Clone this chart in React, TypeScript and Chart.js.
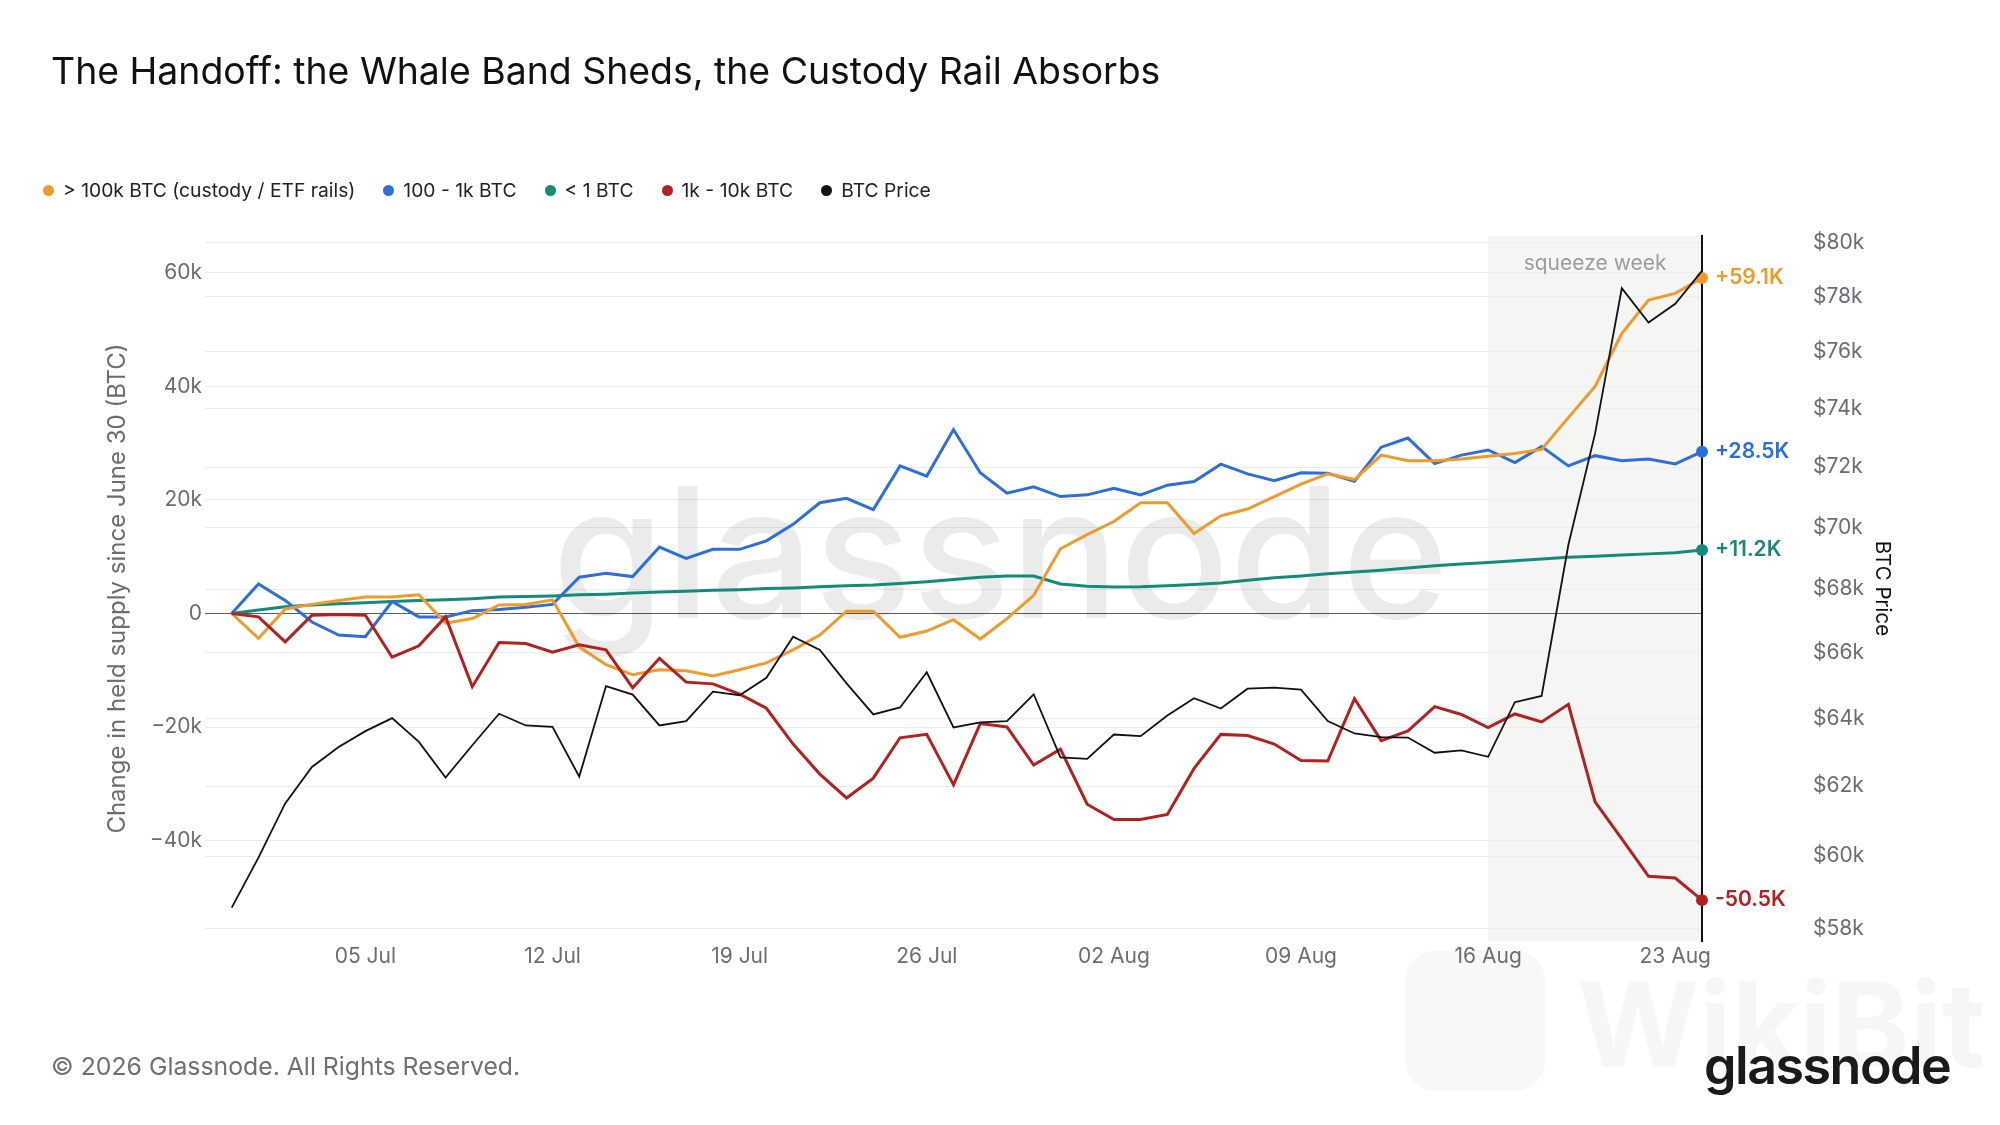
import React, { useEffect, useRef } from "react";
import { Chart, registerables } from "chart.js";

Chart.register(...registerables);

// ---------- data (values in thousands of BTC / thousands of USD) ----------
// daily points from 30 Jun (index 0) to 24 Aug (index 55)
const dayIndex: number[] = Array.from({ length: 56 }, (_, i) => i);
const xTickDays = [5, 12, 19, 26, 33, 40, 47, 54];
const xTickLabels = ["05 Jul", "12 Jul", "19 Jul", "26 Jul", "02 Aug", "09 Aug", "16 Aug", "23 Aug"];

const whale100k = [
  0, -4.4, 0.8, 1.6, 2.3, 2.9, 2.9, 3.3, -1.7, -0.9,
  1.5, 1.6, 2.4, -5.9, -9.0, -10.8, -9.9, -10.1, -11.0, -9.9,
  -8.7, -6.4, -3.8, 0.4, 0.4, -4.2, -3.1, -1.1, -4.5, -0.9,
  3.2, 11.4, 13.9, 16.2, 19.5, 19.5, 14.1, 17.2, 18.4, 20.6,
  22.8, 24.6, 23.6, 27.9, 26.9, 26.9, 27.2, 27.7, 28.2, 28.9,
  34.5, 40.0, 49.3, 55.2, 56.4, 59.1,
];
const band100to1k = [
  0, 5.2, 2.3, -1.5, -3.8, -4.1, 2.1, -0.6, -0.6, 0.5,
  0.7, 1.1, 1.6, 6.4, 7.1, 6.5, 11.7, 9.7, 11.3, 11.3,
  12.8, 15.7, 19.5, 20.3, 18.3, 26.0, 24.2, 32.4, 24.8, 21.2,
  22.3, 20.6, 20.9, 22.05, 20.9, 22.6, 23.25, 26.3, 24.6, 23.4,
  24.8, 24.7, 23.3, 29.3, 30.9, 26.4, 27.9, 28.8, 26.6, 29.4,
  26.0, 27.8, 26.9, 27.2, 26.35, 28.5,
];
const under1 = [
  0, 0.6, 1.2, 1.5, 1.7, 1.9, 2.1, 2.3, 2.4, 2.6,
  2.9, 3.0, 3.1, 3.3, 3.4, 3.6, 3.8, 3.9, 4.1, 4.2,
  4.4, 4.5, 4.7, 4.9, 5.0, 5.3, 5.6, 6.0, 6.4, 6.6,
  6.6, 5.2, 4.8, 4.65, 4.7, 4.9, 5.1, 5.35, 5.85, 6.3,
  6.6, 7.0, 7.3, 7.6, 8.0, 8.4, 8.7, 9.0, 9.3, 9.6,
  9.9, 10.1, 10.3, 10.5, 10.7, 11.2,
];
const band1kto10k = [
  0, -0.6, -5.0, -0.3, -0.2, -0.3, -7.7, -5.7, -0.6, -12.9,
  -5.1, -5.3, -6.8, -5.5, -6.4, -13.1, -7.9, -12.1, -12.4, -14.2,
  -16.7, -23.0, -28.3, -32.5, -29.0, -21.9, -21.3, -30.2, -19.4, -20.0,
  -26.7, -23.9, -33.6, -36.3, -36.3, -35.4, -27.3, -21.3, -21.5, -23.0,
  -25.9, -26.0, -15.0, -22.4, -20.7, -16.4, -17.8, -20.1, -17.7, -19.1,
  -16.0, -33.2, -39.7, -46.3, -46.6, -50.5,
];
const btcPrice = [
  58.57, 59.96, 61.5, 62.56, 63.15, 63.62, 64.01, 63.3, 62.25, 63.2,
  64.14, 63.79, 63.75, 62.28, 64.98, 64.72, 63.79, 63.92, 64.81, 64.7,
  65.23, 66.5, 66.09, 65.06, 64.12, 64.33, 65.4, 63.73, 63.88, 63.92,
  64.73, 62.84, 62.8, 63.52, 63.47, 64.09, 64.61, 64.3, 64.9, 64.93,
  64.87, 63.92, 63.55, 63.44, 63.43, 62.98, 63.05, 62.86, 64.49, 64.68,
  69.42, 73.14, 78.3, 77.05, 77.73, 78.94,
];
const supplyTicks = [-40, -20, 0, 20, 40, 60];
const priceTicks = [58, 60, 62, 64, 66, 68, 70, 72, 74, 76, 78, 80];
const squeezeStartDay = 47;
const squeezeEndDay = 55;

const seriesNames = ["> 100k BTC (custody / ETF rails)", "100 - 1k BTC", "< 1 BTC", "1k - 10k BTC", "BTC Price"];
const seriesColors = ["#f09a2a", "#2c6fdc", "#138a7b", "#b3211f", "#111111"];
const endLabels = ["+59.1K", "+28.5K", "+11.2K", "-50.5K"];

const FONT = "Inter, 'Noto Sans', sans-serif";
const TICK_COLOR = "#6c6c72";
const GRID = "#ececec";

const toPts = (arr: number[]) => arr.map((v, i) => ({ x: dayIndex[i], y: v }));

const decorPlugin = {
  id: "decor",
  beforeDraw(chart: any) {
    const { ctx, chartArea, scales } = chart;
    const x0 = scales.x.getPixelForValue(squeezeStartDay);
    const x1 = scales.x.getPixelForValue(squeezeEndDay);
    ctx.save();
    ctx.fillStyle = "#f5f5f3";
    ctx.fillRect(x0, chartArea.top, x1 - x0, chartArea.bottom - chartArea.top);
    ctx.restore();
  },
  beforeDatasetsDraw(chart: any) {
    const { ctx, chartArea } = chart;
    ctx.save();
    ctx.font = `500 182px ${FONT}`;
    ctx.fillStyle = "rgba(0,0,0,0.08)";
    ctx.textAlign = "center";
    ctx.textBaseline = "alphabetic";
    ctx.fillText("glassnode", (chartArea.left + chartArea.right) / 2 + 47, 618);
    ctx.restore();
  },
  afterDatasetsDraw(chart: any) {
    const { ctx, chartArea, scales } = chart;
    const x0 = scales.x.getPixelForValue(squeezeStartDay);
    const x1 = scales.x.getPixelForValue(squeezeEndDay);
    ctx.save();
    ctx.font = `400 21px ${FONT}`;
    ctx.fillStyle = "#9b9ca1";
    ctx.textAlign = "center";
    ctx.textBaseline = "middle";
    ctx.fillText("squeeze week", (x0 + x1) / 2, chartArea.top + 28);
    const series = [whale100k, band100to1k, under1, band1kto10k];
    ctx.font = `600 21px ${FONT}`;
    ctx.textAlign = "left";
    series.forEach((s, i) => {
      const last = s.length - 1;
      const py = scales.y.getPixelForValue(s[last]);
      const px = scales.x.getPixelForValue(dayIndex[last]);
      ctx.fillStyle = seriesColors[i];
      ctx.fillText(endLabels[i], px + 13, py);
    });
    ctx.restore();
  },
};

export default function App() {
  const ref = useRef<HTMLCanvasElement>(null);

  useEffect(() => {
    const last = dayIndex.length - 1;
    const endDot = (c: any) => (c.dataIndex === last ? 6 : 0);
    const mk = (data: number[], i: number, width: number, order: number, axis: string, dot: boolean) => ({
      label: seriesNames[i],
      data: toPts(data),
      borderColor: seriesColors[i],
      backgroundColor: seriesColors[i],
      pointBackgroundColor: seriesColors[i],
      borderWidth: width,
      pointRadius: dot ? endDot : 0,
      pointBorderWidth: 0,
      pointHoverRadius: 0,
      tension: 0,
      order,
      yAxisID: axis,
      clip: false as any,
    });
    const chart = new Chart(ref.current!, {
      type: "line",
      data: {
        datasets: [
          mk(btcPrice, 4, 1.8, 0, "y1", false),
          mk(band1kto10k, 3, 3, 1, "y", true),
          mk(whale100k, 0, 3, 2, "y", true),
          mk(band100to1k, 1, 3, 3, "y", true),
          mk(under1, 2, 3, 4, "y", true),
        ] as any,
      },
      options: {
        animation: false,
        responsive: false,
        devicePixelRatio: 1,
        layout: { padding: { top: 236, bottom: 124, left: 0, right: 0 } },
        plugins: { legend: { display: false }, tooltip: { enabled: false }, title: { display: false } },
        events: [],
        scales: {
          x: {
            type: "linear",
            min: -1,
            max: 55,
            grid: { display: false },
            border: { display: false },
            afterBuildTicks: (s: any) => {
              s.ticks = xTickDays.map((v) => ({ value: v }));
            },
            afterFit: (s: any) => {
              s.height = 60;
            },
            ticks: {
              autoSkip: false,
              maxRotation: 0,
              padding: -5,
              color: TICK_COLOR,
              font: { family: FONT, size: 21 },
              callback: (v: any) => {
                const k = xTickDays.indexOf(Number(v));
                return k >= 0 ? xTickLabels[k] : "";
              },
            },
          },
          y: {
            type: "linear",
            position: "left",
            min: -57.7,
            max: 66.5,
            afterBuildTicks: (s: any) => {
              s.ticks = supplyTicks.map((v) => ({ value: v }));
            },
            afterFit: (s: any) => {
              s.width = 205;
            },
            grid: {
              drawTicks: false,
              lineWidth: 1,
              color: (c: any) => (c.tick && c.tick.value === 0 ? "#5a5a5a" : GRID),
            },
            border: { display: false },
            ticks: {
              autoSkip: false,
              padding: 3,
              color: TICK_COLOR,
              font: { family: FONT, size: 21 },
              callback: (v: any) => (Number(v) === 0 ? "0" : (Number(v) < 0 ? "\u2212" : "") + Math.abs(Number(v)) + "k"),
            },
            title: {
              display: true,
              text: "Change in held supply since June 30 (BTC)",
              color: TICK_COLOR,
              font: { family: FONT, size: 24 },
              padding: { top: 103, bottom: 0 },
            },
          },
          y1: {
            type: "logarithmic",
            position: "right",
            min: 57.66,
            max: 80.24,
            afterBuildTicks: (s: any) => {
              s.ticks = priceTicks.map((v) => ({ value: v }));
            },
            afterFit: (s: any) => {
              s.width = 298;
            },
            grid: { drawTicks: false, lineWidth: 1, color: GRID },
            border: { display: true, color: "#111", width: 2 },
            ticks: {
              autoSkip: false,
              padding: 111,
              color: TICK_COLOR,
              font: { family: FONT, size: 21 },
              callback: (v: any) => "$" + Number(v) + "k",
            },
            title: {
              display: true,
              text: "BTC Price",
              color: "#111",
              font: { family: FONT, size: 20.5 },
              padding: { top: 106, bottom: 0 },
            },
          },
        },
      } as any,
      plugins: [decorPlugin],
    });
    return () => chart.destroy();
  }, []);

  return (
    <div
      style={{
        position: "absolute",
        left: 0,
        top: 0,
        width: 2000,
        height: 1125,
        background: "#fff",
        overflow: "hidden",
        fontFamily: FONT,
      }}
    >
      <div
        style={{
          position: "absolute",
          left: 1405,
          top: 951,
          width: 140,
          height: 140,
          borderRadius: 30,
          background: "#f8f8f8",
        }}
      />
      <div
        style={{
          position: "absolute",
          left: 1577,
          top: 965,
          fontSize: 118,
          fontWeight: 700,
          color: "#f6f6f6",
          lineHeight: "118px",
        }}
      >
        WikiBit
      </div>
      <canvas
        ref={ref}
        width={2000}
        height={1125}
        style={{ position: "absolute", left: 0, top: 0, width: 2000, height: 1125 }}
      />
      <div
        style={{
          position: "absolute",
          left: 51,
          top: 52,
          fontSize: 37.4,
          lineHeight: "38px",
          fontWeight: 400,
          color: "#111",
          whiteSpace: "nowrap",
        }}
      >
        The Handoff: the Whale Band Sheds, the Custody Rail Absorbs
      </div>
      <div
        style={{
          position: "absolute",
          left: 43,
          top: 181,
          display: "flex",
          alignItems: "center",
          fontSize: 19.3,
          lineHeight: "19.5px",
          color: "#222",
          whiteSpace: "nowrap",
        }}
      >
        {seriesNames.map((n, i) => (
          <div key={n} style={{ display: "flex", alignItems: "center", marginRight: 28 }}>
            <span
              style={{
                display: "inline-block",
                width: 11,
                height: 11,
                borderRadius: "50%",
                background: seriesColors[i],
                marginRight: 9,
              }}
            />
            <span>{n}</span>
          </div>
        ))}
      </div>
      <div
        style={{
          position: "absolute",
          left: 51,
          top: 1054,
          fontSize: 24.8,
          lineHeight: "24.5px",
          color: "#707070",
          whiteSpace: "nowrap",
        }}
      >
        © 2026 Glassnode. All Rights Reserved.
      </div>
      <div
        style={{
          position: "absolute",
          left: 1704,
          top: 1040,
          fontSize: 52,
          lineHeight: "52px",
          fontWeight: 600,
          letterSpacing: -1.5,
          color: "#1a1a1a",
          whiteSpace: "nowrap",
        }}
      >
        glassnode
      </div>
    </div>
  );
}
